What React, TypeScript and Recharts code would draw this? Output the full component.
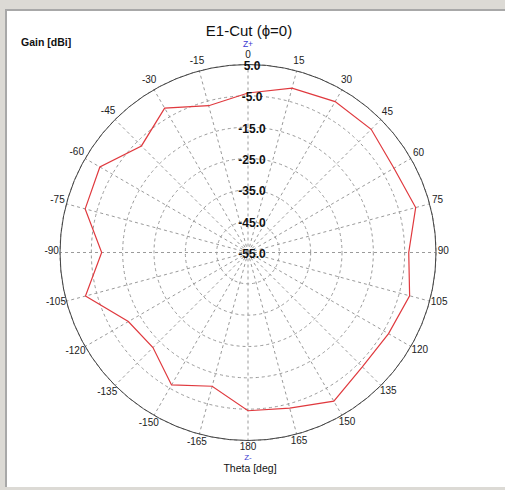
import React from "react";
import { RadarChart, PolarGrid, PolarAngleAxis, PolarRadiusAxis, Radar } from "recharts";

const thetaLabels = [
  "0", "15", "30", "45", "60", "75", "90", "105", "120", "135", "150", "165", "180",
  "-165", "-150", "-135", "-120", "-105", "-90", "-75", "-60", "-45", "-30", "-15",
];
const gainValues = [
  -4.1, -0.7, 0.6, 0.6, -1.2, 0.4, -3.7, -1.6, -3.2, -3.4, -0.2, -3.6, -4.5,
  -10.8, -6.2, -12.1, -10.9, -1.3, -8.3, -1.2, -0.4, -6.9, -1.8, -6.5,
];
const radiusTicks = [-55, -45, -35, -25, -15, -5, 5];

const data = thetaLabels.map((t, i) => ({ theta: t, gain: gainValues[i] }));

const CX = 248;
const CY = 252.5;
const R = 188;
const FONT = "'Liberation Sans', Arial, sans-serif";

const AngleTick = (props: any) => {
  const label = String(props.payload.value);
  const th = (Number(label) * Math.PI) / 180;
  const s = Math.sin(th);
  const c = Math.cos(th);
  const digits = label.replace("-", "").length;
  const w = digits * 5.56 + (label.startsWith("-") ? 3.33 : 0);
  const r = R + 4 + 0.6 * Math.abs(s) * (w / 2) + Math.abs(c) * 4;
  const x = CX + r * s;
  const y = CY - r * c - 2;
  return (
    <text x={x} y={y} textAnchor="middle" dominantBaseline="central" fontSize={10} fill="#222" fontFamily={FONT}>
      {label}
    </text>
  );
};

const RadiusTick = (props: any) => {
  const { x, y, payload } = props;
  return (
    <text x={x + 4} y={y + 1.5} textAnchor="middle" dominantBaseline="central" fontSize={12} fontWeight="bold" fill="#111" fontFamily={FONT}>
      {Number(payload.value).toFixed(1)}
    </text>
  );
};

export default function App() {
  return (
    <div style={{ position: "fixed", left: 0, top: 0, width: 505, height: 490, background: "#dcdad5", overflow: "hidden" }}>
      <div
        style={{
          position: "absolute",
          left: 5,
          top: 9,
          width: 500,
          height: 478,
          background: "#ffffff",
          borderLeft: "2px solid #a8a8a8",
          borderTop: "2px solid #a8a8a8",
          boxSizing: "border-box",
        }}
      />
      <div style={{ position: "absolute", left: 0, top: 0 }}>
        <RadarChart
          width={505}
          height={490}
          cx={CX}
          cy={CY}
          outerRadius={R}
          innerRadius={0}
          startAngle={90}
          endAngle={-270}
          data={data}
          margin={{ top: 0, right: 0, bottom: 0, left: 0 }}
        >
          <PolarGrid gridType="circle" stroke="#9a9a9a" strokeDasharray="3 3" strokeWidth={1} />
          <PolarAngleAxis
            dataKey="theta"
            tick={AngleTick}
            tickLine={false}
            axisLine={{ stroke: "#444", strokeWidth: 1 }}
            axisLineType="circle"
          />
          <Radar
            dataKey="gain"
            stroke="#e0393e"
            strokeWidth={1.2}
            fill="none"
            fillOpacity={0}
            dot={false}
            isAnimationActive={false}
          />
          <PolarRadiusAxis
            angle={90}
            type="number"
            domain={[-55, 5]}
            ticks={radiusTicks}
            allowDataOverflow
            tick={RadiusTick}
            tickLine={false}
            axisLine={false}
          />
        </RadarChart>
      </div>
      <div style={{ position: "absolute", left: 0, top: 0, width: 505, height: 490, pointerEvents: "none" }}>
        <svg width={505} height={490}>
          <text x={249} y={30} textAnchor="middle" dominantBaseline="central" fontSize={15} fill="#111" fontFamily={FONT}>
            E1-Cut (ϕ=0)
          </text>
          <text x={21} y={46} fontSize={10.5} fontWeight="bold" fill="#111" fontFamily={FONT}>
            Gain [dBi]
          </text>
          <text x={248} y={44} textAnchor="middle" dominantBaseline="central" fontSize={8.5} fill="#3a3ad0" fontFamily={FONT}>
            Z+
          </text>
          <text x={248} y={457} textAnchor="middle" dominantBaseline="central" fontSize={8} fill="#3a3ad0" fontFamily={FONT}>
            Z-
          </text>
          <text x={250} y={468} textAnchor="middle" dominantBaseline="central" fontSize={10.5} fill="#111" fontFamily={FONT}>
            Theta [deg]
          </text>
        </svg>
      </div>
    </div>
  );
}
